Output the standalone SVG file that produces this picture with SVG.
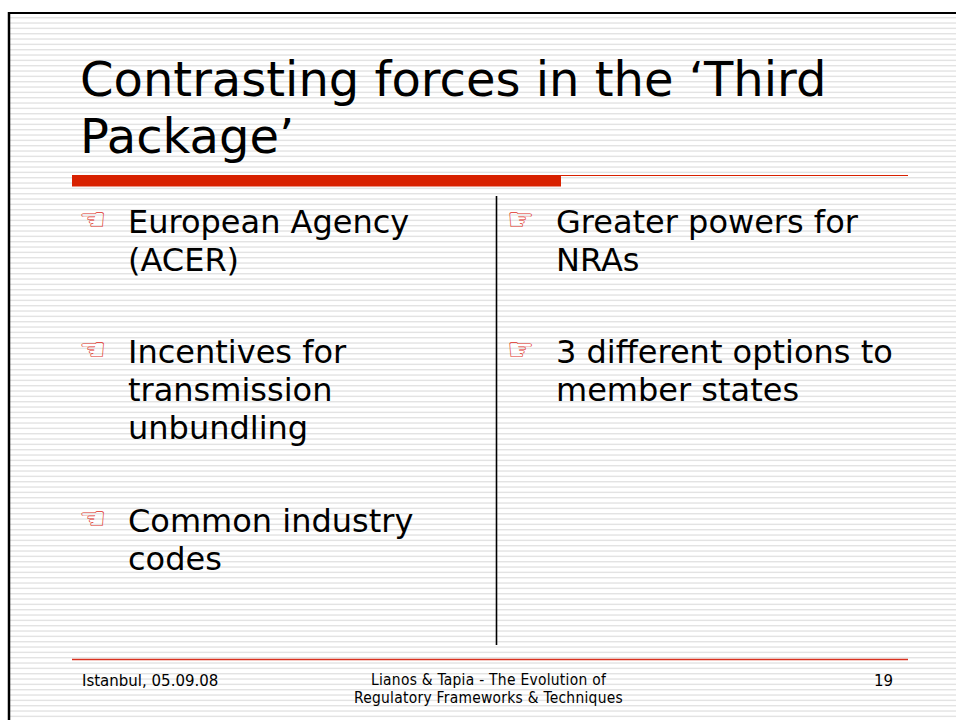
<svg xmlns="http://www.w3.org/2000/svg" width="956" height="720" viewBox="0 0 956 720">
<defs>
<pattern id="stripes" x="0" y="0" width="16" height="16" patternUnits="userSpaceOnUse">
<rect x="0" y="0" width="16" height="16" fill="#ffffff"/>
<rect x="0" y="1" width="16" height="1.4" fill="#e3e3e3"/>
<rect x="0" y="6.33" width="16" height="1.4" fill="#e3e3e3"/>
<rect x="0" y="11.67" width="16" height="1.4" fill="#e3e3e3"/>
</pattern>
</defs>
<style>
.title{font-family:"DejaVu Sans",Verdana,sans-serif;font-size:48px;fill:#000}
.body{font-family:"DejaVu Sans",Verdana,sans-serif;font-size:32px;fill:#000}
.bullet{font-family:"DejaVu Sans",sans-serif;font-size:31px;fill:#e0301e}
.foot{font-family:"DejaVu Sans",Verdana,sans-serif;font-size:15px;fill:#000}
.footc{font-family:"DejaVu Sans Condensed","DejaVu Sans",sans-serif;font-size:15.4px;letter-spacing:0.28px;fill:#000}
</style>
<rect x="0" y="0" width="956" height="720" fill="#ffffff"/>
<rect x="9" y="12" width="947" height="708" fill="url(#stripes)"/>
<g id="frame">
<line x1="9" y1="13" x2="956" y2="13" stroke="#000" stroke-width="2"/>
<line x1="9" y1="12" x2="9" y2="720" stroke="#000" stroke-width="2.5"/>
</g>
<g id="title">
<text class="title" x="80" y="96">Contrasting forces in the ‘Third</text>
<text class="title" x="80" y="153">Package’</text>
</g>
<g id="rules">
<rect x="72" y="175" width="489" height="11.5" fill="#d82100"/>
<line x1="561" y1="175.5" x2="908" y2="175.5" stroke="#d82100" stroke-width="1.2"/>
<line x1="72" y1="659.5" x2="908" y2="659.5" stroke="#d9301e" stroke-width="1.3"/>
</g>
<g id="connectors">
<line x1="496.5" y1="196" x2="496.5" y2="645" stroke="#000" stroke-width="1.6"/>
</g>
<g id="left-item-1">
<text class="bullet" x="79" y="230">☜</text>
<text class="body" x="128" y="233">European Agency</text>
<text class="body" x="128" y="271">(ACER)</text>
</g>
<g id="left-item-2">
<text class="bullet" x="79" y="360">☜</text>
<text class="body" x="128" y="363">Incentives for</text>
<text class="body" x="128" y="401">transmission</text>
<text class="body" x="128" y="439">unbundling</text>
</g>
<g id="left-item-3">
<text class="bullet" x="79" y="529">☜</text>
<text class="body" x="128" y="532">Common industry</text>
<text class="body" x="128" y="570">codes</text>
</g>
<g id="right-item-1">
<text class="bullet" x="507" y="230">☞</text>
<text class="body" x="556" y="233">Greater powers for</text>
<text class="body" x="556" y="271">NRAs</text>
</g>
<g id="right-item-2">
<text class="bullet" x="507" y="360">☞</text>
<text class="body" x="556" y="363">3 different options to</text>
<text class="body" x="556" y="401">member states</text>
</g>
<g id="footer">
<text class="foot" x="82" y="686">Istanbul, 05.09.08</text>
<text class="footc" x="488.5" y="685" text-anchor="middle">Lianos &amp; Tapia - The Evolution of</text>
<text class="footc" x="488.5" y="703" text-anchor="middle">Regulatory Frameworks &amp; Techniques</text>
<text class="foot" x="893" y="686" text-anchor="end">19</text>
</g>
</svg>
